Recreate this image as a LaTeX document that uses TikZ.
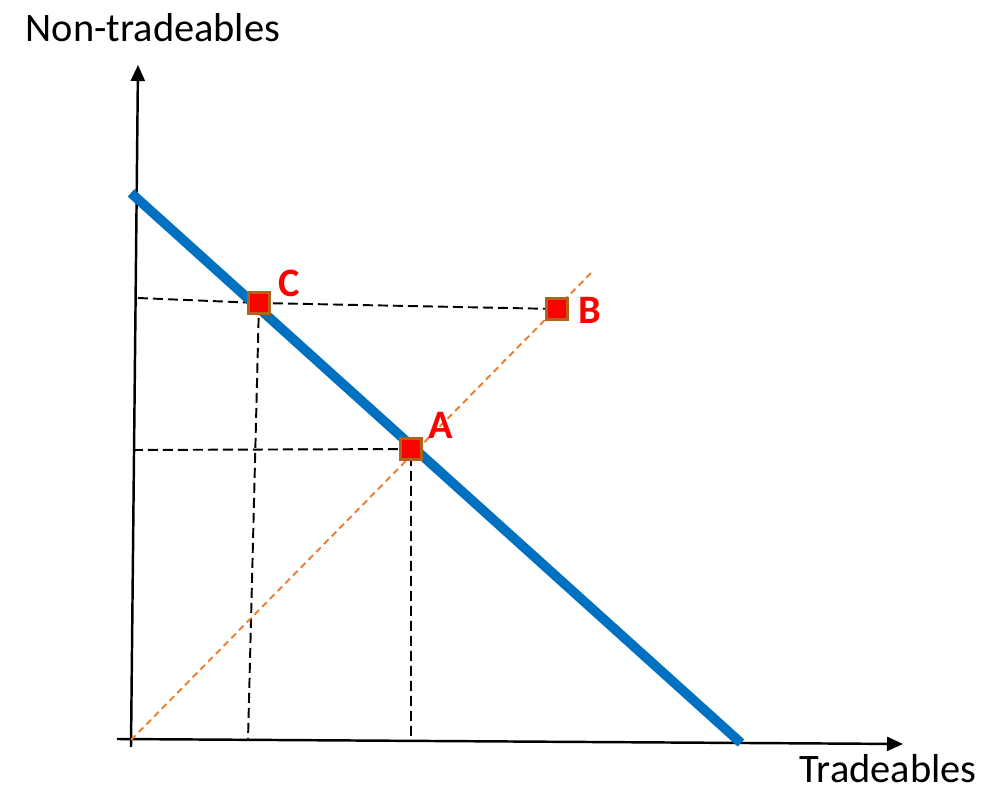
\documentclass[tikz,border=0pt]{standalone}
\usepackage{fontspec}
\setmainfont{Carlito}
\definecolor{lineBlue}{RGB}{0,112,192}
\definecolor{rayOrange}{RGB}{237,125,49}
\definecolor{ptBrown}{RGB}{175,100,30}
\usetikzlibrary{arrows.meta,positioning}

\begin{document}
\begin{tikzpicture}[x=0.02cm, y=-0.02cm,
  axis/.style={line width=1.4pt, -{Triangle[length=0.32cm, width=0.28cm]}},
  guide/.style={line width=1.1pt, dash pattern=on 0.2cm off 0.1cm},
  ray/.style={rayOrange, line width=1.1pt, dash pattern=on 0.13cm off 0.09cm},
  budget/.style={lineBlue, line width=5.5pt},
  pt/.style={draw=ptBrown, fill=red, line width=1.8pt, minimum size=0.42cm,
             inner sep=0pt},
  lbl/.style={text=red, font=\bfseries\fontsize{23}{26}\selectfont},
  ttl/.style={font=\fontsize{23}{26}\selectfont}
]
  \useasboundingbox (0,0) rectangle (1002,793);

  % axes
  \coordinate (o)  at (131,740);
  \coordinate (xs) at (117,739);
  \coordinate (xe) at (903,744);
  \coordinate (ys) at (131,747);
  \coordinate (ye) at (138,65);
  \draw[axis] (xs) -- (xe);
  \draw[axis] (ys) -- (ye);

  % point positions
  \coordinate (pa) at (411,449);
  \coordinate (pb) at (557,309);
  \coordinate (pc) at (259,303);

  % dashed guides
  \draw[guide] (138,298) -- (pc) -- (pb);
  \draw[guide] (pc) -- (248,740);
  \draw[guide] (133,450) -- (pa) -- (411,740);

  % ray and budget line
  \draw[ray] (o) -- (593,271);
  \coordinate (bt) at (131,193);
  \coordinate (bb) at (741,743);
  \draw[budget] (bt) -- (bb);

  % points
  \node[pt] (a) at (pa) {};
  \node[pt] (b) at (pb) {};
  \node[pt] (c) at (pc) {};
  \node[lbl] (la) at (441,425) {A};
  \node[lbl] (lb) at (590,310) {B};
  \node[lbl] (lc) at (289,283) {C};

  % axis titles
  \node[ttl] (ny) at (153,28)  {Non-tradeables};
  \node[ttl] (nx) at (888,769) {Tradeables};
\end{tikzpicture}
\end{document}
